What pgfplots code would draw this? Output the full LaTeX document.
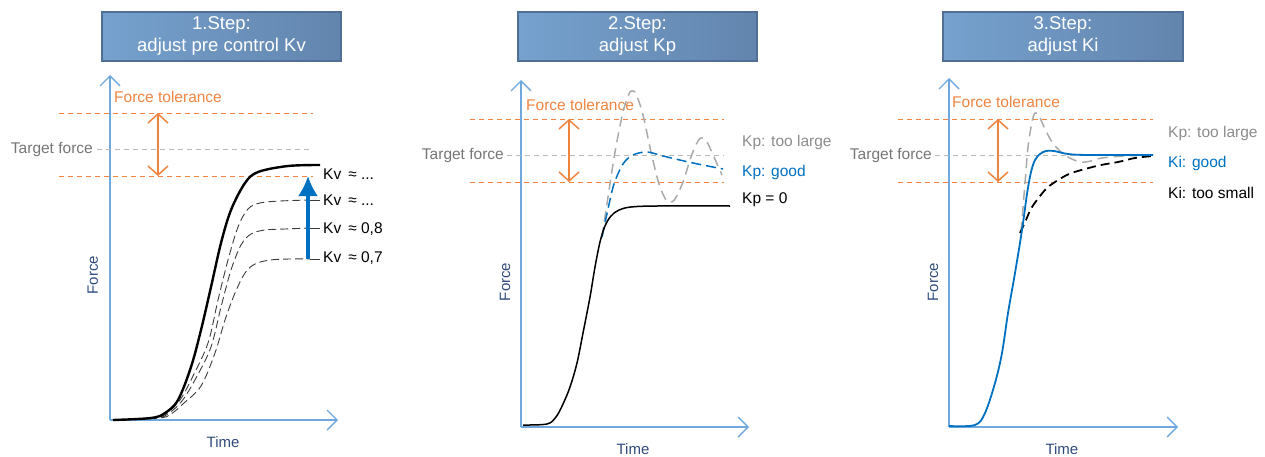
\documentclass[border=0pt]{standalone}
\usepackage{pgfplots}
\pgfplotsset{compat=1.18}
\usepackage{fontspec}
\setmainfont{Liberation Sans}
\usetikzlibrary{arrows.meta}

\definecolor{axisblue}{RGB}{111,168,220}
\definecolor{navy}{RGB}{47,75,124}
\definecolor{orng}{RGB}{239,132,64}
\definecolor{tgtgray}{RGB}{185,185,185}
\definecolor{txtgray}{RGB}{118,118,118}
\definecolor{lgray}{RGB}{170,170,170}
\definecolor{lbgray}{RGB}{140,140,140}
\definecolor{kblue}{RGB}{0,112,192}
\definecolor{dgray}{RGB}{60,60,60}
\definecolor{boxl}{RGB}{118,161,206}
\definecolor{boxr}{RGB}{98,133,173}
\definecolor{boxborder}{RGB}{80,110,150}

\tikzset{
  tol/.style={draw=orng, line width=1pt, dash pattern=on 5pt off 4pt},
  tgt/.style={draw=tgtgray, line width=1pt, dash pattern=on 5pt off 4pt},
  dblarrow/.style={draw=orng, line width=1.5pt,
    {Straight Barb[length=9pt,width=20pt]}-{Straight Barb[length=9pt,width=20pt]}},
  lbl/.style={font=\fontsize{15.5}{18}\selectfont, inner sep=0pt},
  titlebox/.style={draw=boxborder, line width=1.5pt, left color=boxl, right color=boxr},
  titletext/.style={text=white, align=center, font=\fontsize{18.5}{22}\selectfont}
}

\pgfplotsset{
  stepaxis/.style={
    axis lines=left, x=1pt, y=1pt, xmin=0, ymin=0,
    xtick=\empty, ytick=\empty, clip=false, anchor=south west,
    axis line style={draw=axisblue, line width=1.4pt,
      -{Straight Barb[length=10pt,width=20pt]}},
    xlabel={Time}, ylabel={Force},
    xlabel style={anchor=center, text=navy, font=\fontsize{15}{18}\selectfont},
    ylabel style={anchor=center, text=navy, font=\fontsize{15}{18}\selectfont},
  }
}

\begin{document}
\begin{tikzpicture}
\path[use as bounding box] (0,0) rectangle (1265pt,456pt);

% ---------- title boxes ----------
\path[titlebox] (102pt,395pt) rectangle (341pt,444pt);
\node[titletext] at (221.5pt,420.5pt) {1.Step:\\adjust pre control Kv};
\path[titlebox] (518pt,395pt) rectangle (757pt,444pt);
\node[titletext] at (637.5pt,420.5pt) {2.Step:\\adjust Kp};
\path[titlebox] (943pt,395pt) rectangle (1183pt,444pt);
\node[titletext] at (1063pt,420.5pt) {3.Step:\\adjust Ki};

% ---------- Panel 1 ----------
\begin{axis}[stepaxis, at={(110pt,36pt)}, xmax=228, ymax=345,
  xlabel style={at={(axis description cs:0.496,-0.064)}},
  ylabel style={at={(axis description cs:-0.075,0.42)}}]
\addplot[tol] coordinates {(-51,307) (203,307)};
\addplot[tol] coordinates {(-51,244) (203,244)};
\addplot[tgt] coordinates {(-13,271) (203,271)};
\draw[dblarrow] (axis cs:48,244) -- (axis cs:48,307);
\node[lbl, text=orng, anchor=west] at (axis cs:4,323) {Force tolerance};
\node[lbl, text=txtgray, anchor=east] at (axis cs:-17,271) {Target force};
% dashed curves
\addplot[dgray, line width=0.9pt, dash pattern=on 8pt off 4pt, smooth, tension=0.55] coordinates {
 (3,0) (45,2) (57,7) (70,20) (82,42) (98,77) (108,120) (118,160) (128,193) (138,211) (150,217) (170,219) (200,220)};
\addplot[dgray, line width=0.9pt, dash pattern=on 8pt off 4pt, smooth, tension=0.55] coordinates {
 (3,0) (47,2) (59,7) (72,19) (86,42) (101,73) (111,113) (121,150) (131,175) (141,186) (155,190) (175,191) (200,192)};
\addplot[dgray, line width=0.9pt, dash pattern=on 8pt off 4pt, smooth, tension=0.55] coordinates {
 (3,0) (49,2) (61,6) (74,17) (91,34) (105,67) (115,100) (125,127) (135,147) (145,156) (160,160) (180,161) (200,161)};
\addplot[dgray, line width=0.9pt] coordinates {(200,220) (210,220)};
\addplot[dgray, line width=0.9pt] coordinates {(200,192) (210,192)};
\addplot[dgray, line width=0.9pt] coordinates {(200,161) (210,161)};
% solid curve
\addplot[black, line width=2.4pt, smooth, tension=0.55] coordinates {
 (3,0) (41,2) (55,7) (68,20) (81,53) (91,90) (101,133) (111,177) (121,210) (135,237) (148,248) (178,254) (210,255)};
\draw[kblue, line width=3.2pt, -{Latex[length=20pt,width=20pt]}] (axis cs:198,161) -- (axis cs:198,244);
\node[lbl, anchor=west] at (axis cs:213,246) {Kv\hspace{7pt}≈ ...};
\node[lbl, anchor=west] at (axis cs:213,220) {Kv\hspace{7pt}≈ ...};
\node[lbl, anchor=west] at (axis cs:213,191) {Kv\hspace{7pt}≈ 0,8};
\node[lbl, anchor=west] at (axis cs:213,162) {Kv\hspace{7pt}≈ 0,7};
\end{axis}

% ---------- Panel 2 ----------
\begin{axis}[stepaxis, at={(521pt,29pt)}, xmax=228, ymax=347,
  xlabel style={at={(axis description cs:0.491,-0.063)}},
  ylabel style={at={(axis description cs:-0.070,0.418)}}]
\addplot[tol] coordinates {(-51,308) (203,308)};
\addplot[tol] coordinates {(-51,245) (203,245)};
\addplot[tgt] coordinates {(-14,272) (203,272)};
\draw[dblarrow] (axis cs:48,245) -- (axis cs:48,308);
\node[lbl, text=orng, anchor=west] at (axis cs:5,322) {Force tolerance};
\node[lbl, text=txtgray, anchor=east] at (axis cs:-17,272) {Target force};
\addplot[lgray, line width=1.5pt, dash pattern=on 10pt off 6pt, smooth, tension=0.55] coordinates {
 (81,190) (87,230) (94,275) (102,315) (108,333) (111,336) (115,333) (122,312) (130,275) (138,243) (145,227) (149,225) (154,228) (162,245) (170,270) (177,286) (181,289) (186,285) (193,270) (201,252)};
\addplot[kblue, line width=1.5pt, dash pattern=on 10pt off 5pt, smooth, tension=0.55] coordinates {
 (81,190) (87,218) (93,243) (102,263) (112,272) (126,275) (142,271) (172,264) (202,258)};
\addplot[black, line width=1.5pt, smooth, tension=0.55] coordinates {
 (2,2) (26,3) (35,10) (42,23) (49,40) (56,64) (62,94) (69,130) (74,160) (79,185) (84,201) (90,211) (98,217) (110,220) (136,221) (209,221)};
\node[lbl, text=lbgray, anchor=west] at (axis cs:221,285) {Kp: too large};
\node[lbl, text=kblue, anchor=west] at (axis cs:221,255) {Kp: good};
\node[lbl, anchor=west] at (axis cs:221,227) {Kp = 0};
\end{axis}

% ---------- Panel 3 ----------
\begin{axis}[stepaxis, at={(949pt,29pt)}, xmax=229, ymax=349,
  xlabel style={at={(axis description cs:0.493,-0.063)}},
  ylabel style={at={(axis description cs:-0.070,0.415)}}]
\addplot[tol] coordinates {(-51,308) (204,308)};
\addplot[tol] coordinates {(-51,245) (204,245)};
\addplot[tgt] coordinates {(-14,272) (204,272)};
\draw[dblarrow] (axis cs:49,245) -- (axis cs:49,308);
\node[lbl, text=orng, anchor=west] at (axis cs:3,325) {Force tolerance};
\node[lbl, text=txtgray, anchor=east] at (axis cs:-17,272) {Target force};
\addplot[lgray, line width=1.5pt, dash pattern=on 10pt off 6pt, smooth, tension=0.55] coordinates {
 (72,195) (76,244) (79,280) (83,305) (86,314) (90,311) (96,298) (103,285) (111,276) (119,270) (131,265) (142,266) (153,269) (175,271) (204,272)};
\addplot[black, line width=1.8pt, dash pattern=on 9pt off 5pt, smooth, tension=0.55] coordinates {
 (71,194) (77,207) (83,220) (96,237) (106,245) (120,253) (136,258) (152,262) (169,265) (186,269) (204,271)};
\addplot[kblue, line width=1.8pt, smooth, tension=0.55] coordinates {
 (0,1) (26,2) (36,14) (46,44) (53,74) (59,114) (66,154) (73,197) (78,233) (82,255) (86,267) (91,273) (97,276) (105,276) (119,273) (140,272) (204,272)};
\node[lbl, text=lbgray, anchor=west] at (axis cs:219,294) {Kp: too large};
\node[lbl, text=kblue, anchor=west] at (axis cs:219,264) {Ki: good};
\node[lbl, anchor=west] at (axis cs:219,234) {Ki: too small};
\end{axis}
\end{tikzpicture}
\end{document}
